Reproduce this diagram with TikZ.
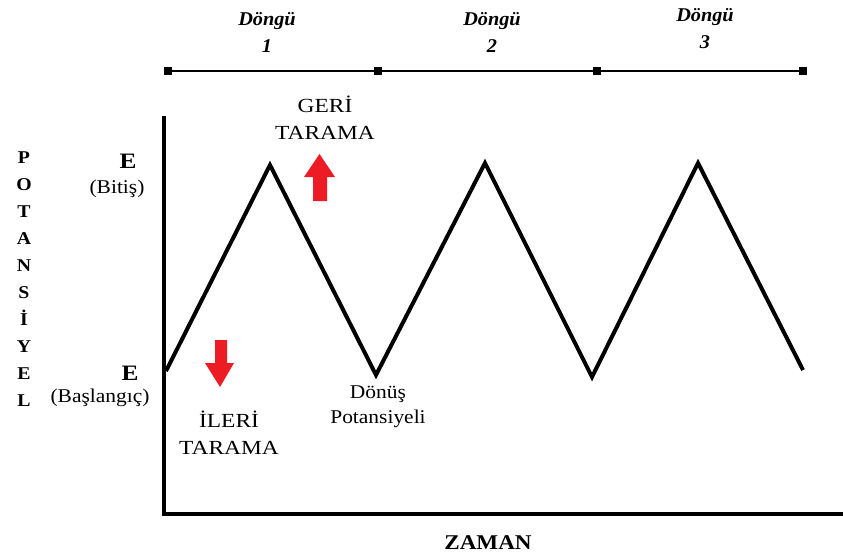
\documentclass[tikz,border=0pt]{standalone}
\usepackage{fontspec}
\setmainfont{Liberation Serif}
\begin{document}
\begin{tikzpicture}[x=1pt,y=-1pt,
  axisline/.style={line width=4pt},
  wave/.style={line width=4pt, line join=miter},
  tick/.style={fill=black, minimum size=8pt, inner sep=0pt},
  cyc/.style={font=\fontsize{19.5}{27}\selectfont\bfseries\itshape, align=center, xscale=1.04},
  lab/.style={font=\fontsize{20}{27}\selectfont, align=center, xscale=1.17},
  smalllab/.style={font=\fontsize{19.5}{25}\selectfont, align=center, xscale=1.1},
  ebig/.style={font=\fontsize{22}{27}\selectfont\bfseries, xscale=1.15},
  ylab/.style={font=\fontsize{18}{27}\selectfont\bfseries, align=center, xscale=1.1},
  redarrow/.style={fill=arrowred, draw=none}]
\definecolor{arrowred}{HTML}{ED1C24}
\useasboundingbox (0,0) rectangle (843,559);
% axes
\coordinate (top) at (163.5,116);
\coordinate (origin) at (163.5,513.5);
\coordinate (xend) at (843,513.5);
\draw[axisline] (top) -- (origin) -- (xend);
% zigzag
\coordinate (z0) at (166,371);
\coordinate (z1) at (270,165);
\coordinate (z2) at (376,375);
\coordinate (z3) at (485,163);
\coordinate (z4) at (592,377);
\coordinate (z5) at (698,163);
\coordinate (z6) at (803,370);
\draw[wave] (z0) -- (z1) -- (z2) -- (z3) -- (z4) -- (z5) -- (z6);
% cycle line
\node[tick] (t0) at (168,71) {};
\node[tick] (t1) at (378,71) {};
\node[tick] (t2) at (597,71) {};
\node[tick] (t3) at (803,71) {};
\draw[line width=1.5pt] (t0) -- (t1) -- (t2) -- (t3);
\node[cyc] (c1) at (267,32) {Döngü\\1};
\node[cyc] (c2) at (492,32) {Döngü\\2};
\node[cyc] (c3) at (705,29) {Döngü\\3};
% y labels
\node[ebig] (ebit) at (128,161) {E};
\node[smalllab] (bitis) at (117,189) {(Bitiş)};
\node[ebig] (ebas) at (130,373) {E};
\node[smalllab] (baslangic) at (100,398) {(Başlangıç)};
\node[ylab] (pot) at (24,279) {P\\O\\T\\A\\N\\S\\İ\\Y\\E\\L};
% labels
\node[lab] (geri) at (325,118) {GERİ\\TARAMA};
\node[lab] (ileri) at (229,433) {İLERİ\\TARAMA};
\node[smalllab] (donus) at (378,407) {Dönüş\\Potansiyeli};
\node[font=\fontsize{21}{24}\selectfont\bfseries, xscale=1.1] (zaman) at (488,543) {ZAMAN};
% red arrows
\fill[redarrow] (313,201) -- (313,177) -- (304,177) -- (319.5,154) -- (335,177) -- (327,177) -- (327,201) -- cycle;
\fill[redarrow] (215,340) -- (227,340) -- (227,363) -- (234,363) -- (220,387) -- (205,363) -- (215,363) -- cycle;
\end{tikzpicture}
\end{document}
